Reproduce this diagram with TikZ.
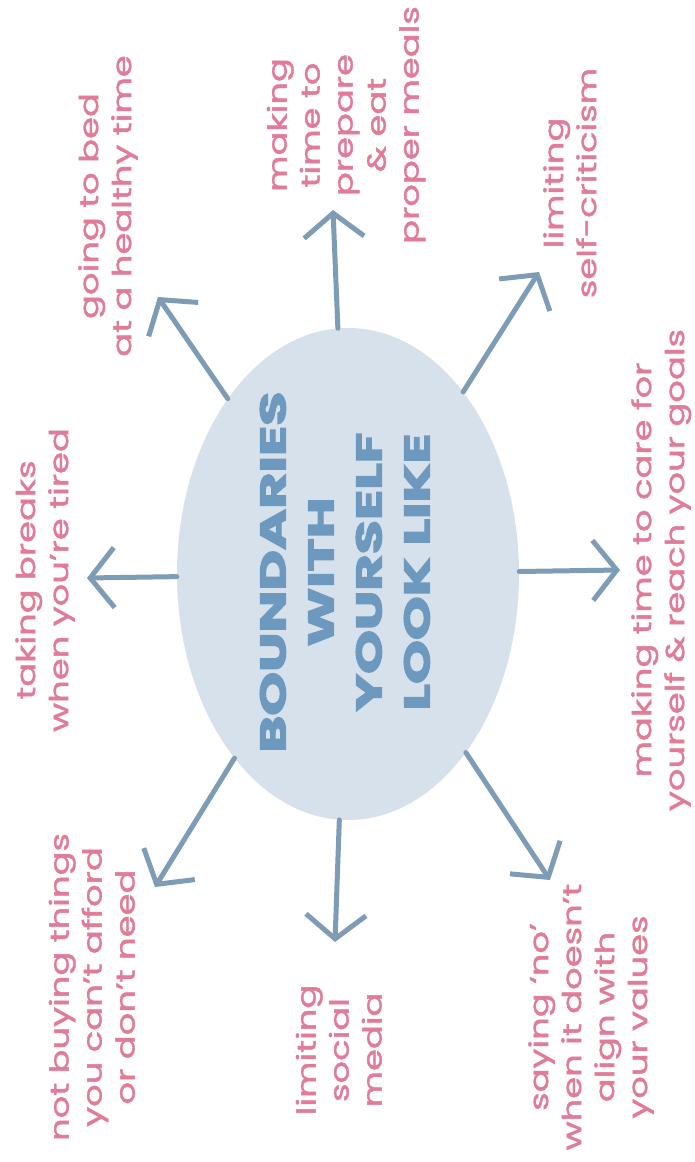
\documentclass[tikz,border=0pt]{standalone}
\usepackage{fontspec}
\setmainfont{Poppins}
\newfontfamily\titlefont[FakeBold=3]{Poppins}
\newfontfamily\lblfont[FakeBold=1.4]{Poppins}
\usetikzlibrary{arrows.meta,shapes.geometric}
\definecolor{pinklbl}{RGB}{224,124,152}
\definecolor{arrowc}{RGB}{126,156,181}
\definecolor{ellfill}{RGB}{214,225,235}
\definecolor{titlec}{RGB}{108,153,189}
\newcommand{\stretchtxt}[1]{\scalebox{1.36}[1]{\begin{tabular}{@{}c@{}}#1\end{tabular}}}
\tikzset{
  lbl/.style={rotate=90, text=pinklbl, inner sep=0pt, font=\lblfont\fontsize{26}{33}\selectfont},
  conn/.style={draw=arrowc, line width=5pt, line cap=round,
    -{Straight Barb[length=24pt, width=60pt, line width=5pt]}},
  bubble/.style={ellipse, fill=ellfill, minimum width=342pt, minimum height=492pt, inner sep=0pt}
}
\begin{document}
\begin{tikzpicture}[x=1pt,y=-1pt]
\path[use as bounding box, fill=white] (0,0) rectangle (694,1162);
\node[bubble] (c) at (348,574) {};
\node[rotate=90, text=titlec, inner sep=0pt] (title) at (348,572)
  {\titlefont\bfseries\fontsize{36}{48}\selectfont\scalebox{1.55}[1]{\begin{tabular}{@{}c@{}}BOUNDARIES\\WITH\\YOURSELF\\LOOK LIKE\end{tabular}}};
% arrow tips
\coordinate (t1) at (333,210);
\coordinate (t2) at (158,297);
\coordinate (t3) at (539,272);
\coordinate (t4) at (87,578);
\coordinate (t5) at (620,570);
\coordinate (t6) at (155,887);
\coordinate (t7) at (335,942);
\coordinate (t8) at (550,880);
\foreach \t in {t1,t2,t3,t4,t5,t6,t7,t8} { \draw[conn] (c) -- (\t); }
% labels
\node[lbl] (la) at (108,206) {\stretchtxt{going to bed\\at a healthy time}};
\node[lbl] (lb) at (346,125) {\stretchtxt{making\\time to\\prepare\\\& eat\\proper meals}};
\node[lbl] (lc) at (573,183) {\stretchtxt{limiting\\self-criticism}};
\node[lbl] (ld) at (45,580) {\stretchtxt{taking breaks\\when you’re tired}};
\node[lbl] (le) at (661,570) {\stretchtxt{making time to care for\\yourself \& reach your goals}};
\node[lbl] (lf) at (95,987) {\stretchtxt{not buying things\\you can’t afford\\or don’t need}};
\node[lbl] (lg) at (342,1050) {\stretchtxt{limiting\\social\\media}};
\node[lbl] (lh) at (591,1017) {\stretchtxt{saying ‘no’\\when it doesn’t\\align with\\your values}};
\end{tikzpicture}
\end{document}
